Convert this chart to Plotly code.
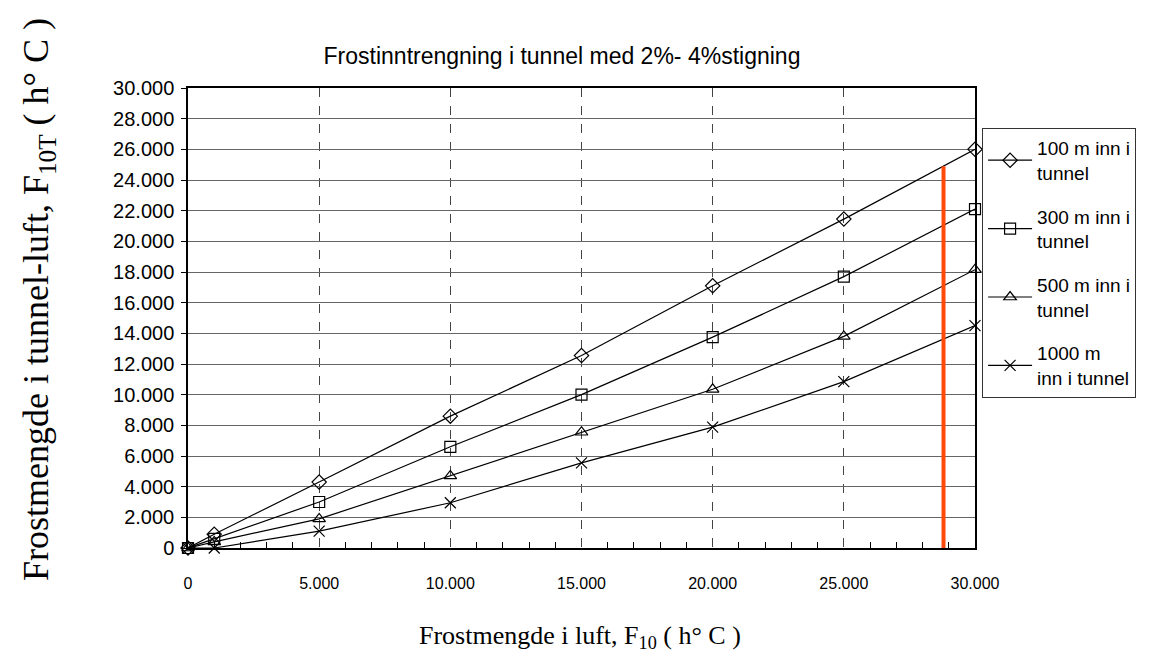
import plotly.graph_objects as go

x_vals = [0, 1000, 5000, 10000, 15000, 20000, 25000, 30000]
y_100m = [0, 900, 4300, 8600, 12550, 17100, 21450, 26000]
y_300m = [0, 600, 3000, 6600, 10000, 13750, 17700, 22100]
y_500m = [0, 400, 1900, 4700, 7550, 10350, 13800, 18150]
y_1000m = [0, 0, 1100, 2950, 5550, 7880, 10850, 14500]

series_names = ["100 m inn i<br>tunnel", "300 m inn i<br>tunnel",
                "500 m inn i<br>tunnel", "1000 m<br>inn i tunnel"]
series_symbols = ["diamond-open", "square-open", "triangle-up-open", "x-thin-open"]

red_x = [28800, 28800]
red_y = [0, 24900]

title_text = "Frostinntrengning i tunnel med 2%- 4%stigning"
x_title = "Frostmengde i luft, F<sub>10</sub> ( h° C )"
y_title = "Frostmengde i tunnel-luft, F<sub>10T</sub> ( h° C )"

fig = go.Figure()
for i, (ys, name, sym) in enumerate(zip([y_100m, y_300m, y_500m, y_1000m],
                                        series_names, series_symbols)):
    fig.add_trace(go.Scatter(
        x=x_vals, y=ys, name=name, mode="lines+markers", legendgroup=f"g{i}",
        line=dict(color="black", width=1.2),
        marker=dict(symbol=sym, size=11, color="black",
                    line=dict(color="black", width=1.2)),
        cliponaxis=False,
    ))

fig.add_trace(go.Scatter(
    x=red_x, y=red_y, mode="lines", showlegend=False,
    line=dict(color="#ff4a0a", width=4), hoverinfo="skip",
))

W, H = 1142, 659
fig.update_layout(
    width=W, height=H,
    paper_bgcolor="white", plot_bgcolor="white",
    margin=dict(l=180, r=W - 967, t=80, b=H - 540, autoexpand=False),
    separators=",.",
    font=dict(family="Liberation Sans, Arial, sans-serif", size=16, color="black"),
    title=dict(text=title_text,
               x=554 / W, xanchor="center", xref="container",
               y=1 - 48 / H, yanchor="middle", yref="container",
               font=dict(family="Liberation Sans, Arial, sans-serif", size=23)),
    legend=dict(x=1.009, y=0.913, xanchor="left", yanchor="top",
                bordercolor="#333", borderwidth=1, bgcolor="white",
                font=dict(size=19), traceorder="grouped", tracegroupgap=16,
                itemwidth=44),
    annotations=[
        dict(text=y_title, textangle=-90, showarrow=False,
             xref="paper", yref="paper", x=(38 - 188) / 787, y=(548 - 300) / 460,
             xanchor="center", yanchor="middle",
             font=dict(family="Liberation Serif, Times New Roman, serif", size=36)),
        dict(text=x_title, showarrow=False,
             xref="paper", yref="paper", x=(580 - 188) / 787, y=-(637 - 548) / 460,
             xanchor="center", yanchor="middle",
             font=dict(family="Liberation Serif, Times New Roman, serif", size=26)),
    ],
)

fig.update_xaxes(
    range=[0, 30000], dtick=5000, tickformat=",d",
    showline=True, linecolor="black", linewidth=1.5, mirror=True,
    showgrid=True, gridcolor="#444", gridwidth=1, griddash="dash",
    ticks="", zeroline=False, ticklabelstandoff=20,
    minor=dict(dtick=1000, ticks="inside", ticklen=6, tickcolor="black", showgrid=False),
    tickfont=dict(size=16),
)
fig.update_yaxes(
    range=[0, 30000], dtick=2000, tickformat=",d",
    showline=True, linecolor="black", linewidth=1.5, mirror=True,
    showgrid=True, gridcolor="#666", gridwidth=1.2,
    ticks="outside", ticklen=5, tickcolor="black", zeroline=False,
    ticklabelstandoff=3,
    tickfont=dict(size=20),
)

fig.write_html("out.html")
